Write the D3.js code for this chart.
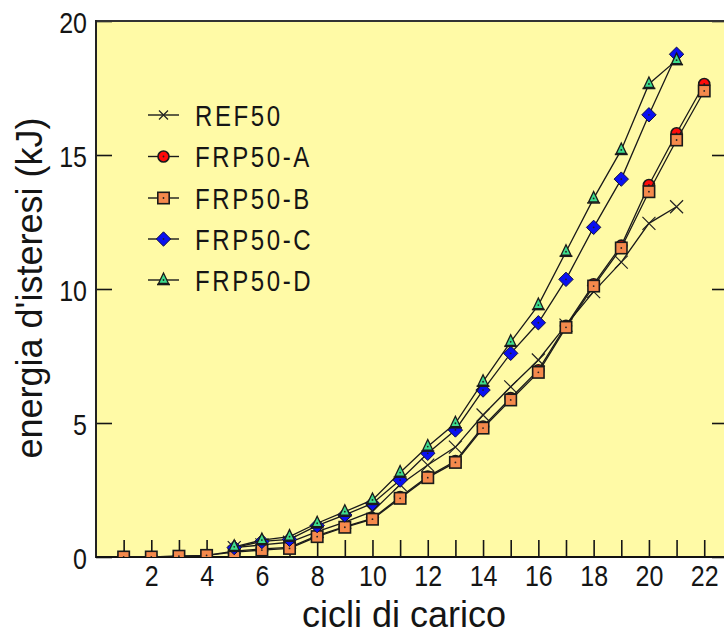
<!DOCTYPE html>
<html><head><meta charset="utf-8">
<script src="https://cdn.jsdelivr.net/npm/d3@7/dist/d3.min.js"></script>
<style>
body{margin:0;background:#fff}
svg{display:block}
text{font-family:Arial,"Liberation Sans",sans-serif;fill:#151515}
</style>
</head><body><svg id="c" width="724" height="638"></svg>
<script>
// ---- data ----
const cycles = d3.range(1, 23);
const seriesNames = ["REF50", "FRP50-A", "FRP50-B", "FRP50-C", "FRP50-D"];
const ref50 = [null, null, null, null, 0.35, 0.45, 0.55, 0.95, 1.3, 1.7, 2.7, 3.43, 4.1, 5.3, 6.35, 7.35, 8.65, 9.9, 11.0, 12.45, 13.07];
const frp50A = [0, 0, 0.03, 0.06, 0.22, 0.3, 0.36, 0.8, 1.13, 1.44, 2.24, 3.0, 3.58, 4.87, 5.93, 6.97, 8.63, 10.18, 11.62, 13.88, 15.81, 17.65];
const frp50B = [0, 0, 0.03, 0.06, 0.18, 0.26, 0.32, 0.76, 1.11, 1.41, 2.19, 2.96, 3.53, 4.81, 5.86, 6.89, 8.57, 10.11, 11.53, 13.63, 15.56, 17.39];
const frp50C = [null, null, null, null, 0.35, 0.58, 0.66, 1.17, 1.57, 2.0, 2.87, 3.87, 4.74, 6.23, 7.6, 8.74, 10.36, 12.3, 14.1, 16.5, 18.76];
const frp50D = [null, null, null, null, 0.38, 0.63, 0.76, 1.26, 1.69, 2.13, 3.15, 4.12, 4.99, 6.54, 8.03, 9.4, 11.39, 13.38, 15.19, 17.65, 18.54];
const xTickValues = d3.range(1, 23);
const yTickValues = [0, 5, 10, 15, 20];
const xTitle = "cicli di carico";
const yTitle = "energia d'isteresi (kJ)";

const seriesValues = [ref50, frp50A, frp50B, frp50C, frp50D];
const markerTypes = ["cross", "circle", "square", "diamond", "triangle"];
const markerFills = ["none", "#ff0a0a", "#f5894c", "#0a10f0", "#3ddc8c"];

// ---- layout ----
const svg = d3.select("#c");
const L = 96, T = 21, B = 557, R = 728;
const x = d3.scaleLinear().domain([0, 22.86]).range([L, R]);
const y = d3.scaleLinear().domain([0, 20]).range([B, T]);

svg.append("rect").attr("x", L).attr("y", T).attr("width", R - L).attr("height", B - T).attr("fill", "#fffaa6");

const defs = svg.append("defs");
defs.append("clipPath").attr("id", "clip").append("rect")
  .attr("x", L).attr("y", T).attr("width", R - L).attr("height", B - T);

// axes
const xAxis = svg.append("g").attr("transform", `translate(0,${B})`)
  .call(d3.axisBottom(x).tickValues(xTickValues).tickSize(-17).tickPadding(0)
    .tickFormat(d => d % 2 === 0 ? d : ""));
xAxis.selectAll(".tick line").attr("stroke", "#151515").attr("stroke-width", 1.6);
xAxis.selectAll("text").attr("font-size", 25).attr("y", 6.7).attr("dy", "0.71em")
  .attr("transform", "scale(1,1.2)").attr("fill", "#151515");
xAxis.select(".domain").remove();

const yAxis = svg.append("g").attr("transform", `translate(${L},0)`)
  .call(d3.axisLeft(y).tickValues(yTickValues).tickSize(-16).tickPadding(9));
yAxis.selectAll(".tick line").attr("stroke", "#151515").attr("stroke-width", 1.6);
yAxis.selectAll("text").attr("font-size", 25).attr("y", 1.2).attr("dy", "0.32em")
  .attr("transform", "scale(1,1.2)").attr("fill", "#151515");
yAxis.select(".domain").remove();

const yAxisR = svg.append("g").attr("transform", `translate(${R},0)`)
  .call(d3.axisRight(y).tickValues(yTickValues).tickSize(-16).tickFormat(""));
yAxisR.selectAll(".tick line").attr("stroke", "#151515").attr("stroke-width", 1.6);
yAxisR.select(".domain").remove();

// frame
svg.append("line").attr("x1", L).attr("x2", R).attr("y1", T).attr("y2", T).attr("stroke", "#333").attr("stroke-width", 2);
svg.append("line").attr("x1", L).attr("x2", L).attr("y1", T - 1).attr("y2", B + 1).attr("stroke", "#222").attr("stroke-width", 2);
svg.append("line").attr("x1", L).attr("x2", R).attr("y1", B).attr("y2", B).attr("stroke", "#111").attr("stroke-width", 2);

// markers
function drawMarker(g, type, fill, small) {
  if (type === "cross") {
    const s = small ? 4.5 : 6.5;
    g.append("path").attr("d", `M${-s},${-s}L${s},${s}M${-s},${s}L${s},${-s}`)
      .attr("stroke", "#222").attr("stroke-width", 1.2).attr("fill", "none");
    return;
  }
  if (type === "circle") {
    g.append("circle").attr("r", 5.5).attr("fill", fill).attr("stroke", "#1a1a1a").attr("stroke-width", 1.6);
  } else if (type === "square") {
    g.append("rect").attr("x", -5.7).attr("y", -5.7).attr("width", 11.4).attr("height", 11.4)
      .attr("fill", fill).attr("stroke", "#1a1a1a").attr("stroke-width", 1.6);
  } else if (type === "diamond") {
    g.append("path").attr("d", "M0,-7.2L7.2,0L0,7.2L-7.2,0Z").attr("fill", fill).attr("stroke", "#101040").attr("stroke-width", 1);
  } else if (type === "triangle") {
    g.append("path").attr("d", "M0,-7L5,3.5L-5,3.5Z").attr("fill", fill).attr("stroke", "#1a1a1a").attr("stroke-width", 1.3);
    g.append("path").attr("d", "M-6.5,4.5H6.5").attr("stroke", "#1a1a1a").attr("stroke-width", 1.6);
  }
  g.append("circle").attr("r", 0.9).attr("fill", "#222");
}

const plot = svg.append("g").attr("clip-path", "url(#clip)");
const line = d3.line().defined(d => d[1] != null).x(d => x(d[0])).y(d => y(d[1]));
seriesValues.forEach((vals, i) => {
  const pts = vals.map((v, j) => [cycles[j], v]);
  const g = plot.append("g");
  g.append("path").attr("d", line(pts)).attr("fill", "none").attr("stroke", "#1a1a1a").attr("stroke-width", 1.3);
  pts.filter(p => p[1] != null).forEach(p => {
    const m = g.append("g").attr("transform", `translate(${x(p[0])},${y(p[1])})`);
    drawMarker(m, markerTypes[i], markerFills[i], false);
  });
});

// legend
const legendRows = [115, 156.5, 198, 239, 280];
seriesNames.forEach((name, i) => {
  const g = svg.append("g").attr("transform", `translate(0,${legendRows[i]})`);
  g.append("line").attr("x1", 148).attr("x2", 179).attr("y1", 0).attr("y2", 0).attr("stroke", "#1a1a1a").attr("stroke-width", 1.4);
  const m = g.append("g").attr("transform", "translate(163.5,0)");
  drawMarker(m, markerTypes[i], markerFills[i], true);
  g.append("text").attr("transform", "translate(195,10.5) scale(1,1.25)")
    .attr("font-size", 24).attr("letter-spacing", 2.6).text(name);
});

// titles
svg.append("text").attr("x", 404).attr("y", 627).attr("text-anchor", "middle")
  .attr("font-size", 36).text(xTitle);
svg.append("text").attr("transform", "translate(42,288) rotate(-90)").attr("text-anchor", "middle")
  .attr("font-size", 36).text(yTitle);
</script>
</body></html>
